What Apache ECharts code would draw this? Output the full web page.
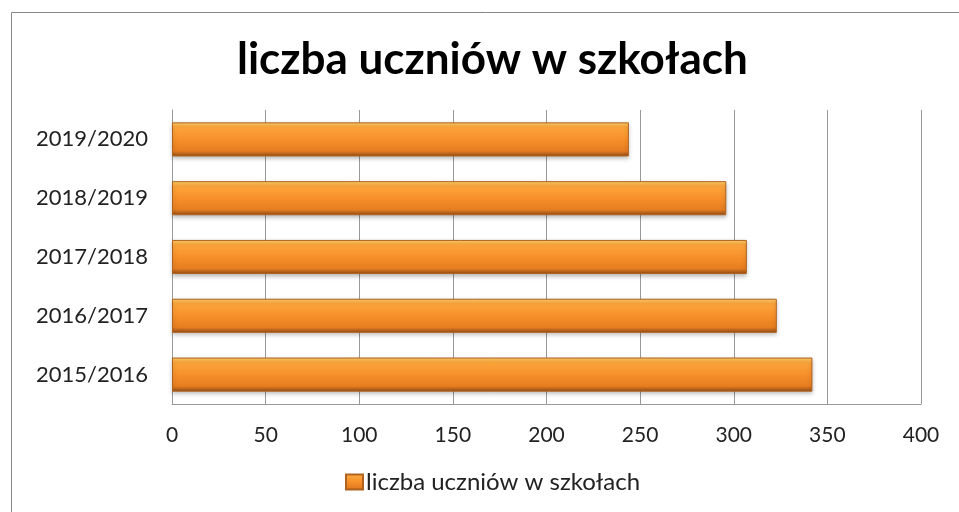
<!DOCTYPE html>
<html>
<head>
<meta charset="utf-8">
<script src="https://cdn.jsdelivr.net/npm/echarts@6/dist/echarts.min.js"></script>
<style>
  html, body { margin: 0; padding: 0; background: #fff; }
  #chart { width: 959px; height: 512px; }
</style>
</head>
<body>
<div id="chart"></div>
<script>
var seriesName = 'liczba uczniów w szkołach';
var categories = ['2015/2016', '2016/2017', '2017/2018', '2018/2019', '2019/2020'];
var values = [342, 323, 307, 296, 244];
var xTicks = [0, 50, 100, 150, 200, 250, 300, 350, 400];

var font = 'Lato, "Open Sans", sans-serif';
var barFill = new echarts.graphic.LinearGradient(0, 0, 0, 1, [
    { offset: 0, color: '#ffd46a' },
    { offset: 0.14, color: '#fca53c' },
    { offset: 0.5, color: '#f7902a' },
    { offset: 0.84, color: '#e67d20' },
    { offset: 1, color: '#8f4b17' }
]);

var chart = echarts.init(document.getElementById('chart'));
chart.setOption({
    backgroundColor: '#fff',
    animation: false,
    title: {
        text: seriesName,
        left: 232,
        top: 33,
        textStyle: { fontFamily: font, fontSize: 44, fontWeight: 'bold', color: '#000' }
    },
    graphic: [{
        type: 'rect',
        shape: { x: 11.5, y: 12.5, width: 1000, height: 600 },
        style: { fill: 'none', stroke: '#888', lineWidth: 1 },
        silent: true
    }],
    legend: {
        bottom: 13,
        left: 340,
        itemWidth: 17,
        itemHeight: 15,
        itemGap: 4,
        textStyle: { fontFamily: font, fontSize: 24, color: '#222', padding: [0, 0, 0, -2] },
        data: [{ name: seriesName, icon: 'rect' }]
    },
    grid: { left: 172, right: 38, top: 110, bottom: 108 },
    xAxis: {
        type: 'value',
        min: 0,
        max: 400,
        interval: 50,
        axisLine: { show: true, lineStyle: { color: '#999' } },
        axisTick: { show: false },
        splitLine: { show: true, lineStyle: { color: '#999' } },
        axisLabel: {
            margin: 21,
            fontFamily: font,
            fontSize: 21,
            color: '#222',
            formatter: function (v) { return xTicks.indexOf(v) >= 0 ? String(v) : ''; }
        }
    },
    yAxis: {
        type: 'category',
        data: categories,
        axisLine: { show: true, lineStyle: { color: '#999' } },
        axisTick: { show: false },
        axisLabel: { margin: 24, fontFamily: font, fontSize: 22, color: '#222' }
    },
    series: [{
        name: seriesName,
        type: 'bar',
        data: values,
        barCategoryGap: '42%',
        itemStyle: {
            color: barFill,
            borderColor: '#b0621f',
            borderWidth: 1,
            shadowColor: 'rgba(0,0,0,0.25)',
            shadowBlur: 4,
            shadowOffsetY: 2
        }
    }]
});
</script>
</body>
</html>
